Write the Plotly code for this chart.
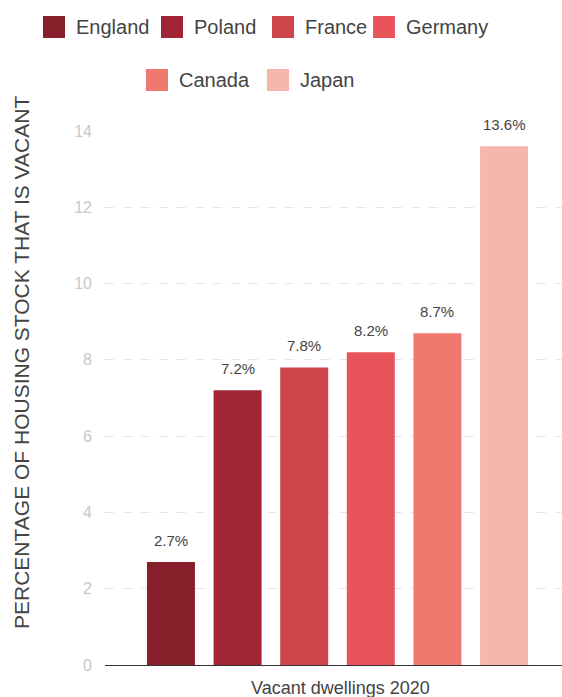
import plotly.graph_objects as go

# Data
countries = ["England", "Poland", "France", "Germany", "Canada", "Japan"]
vacant_pct = [2.7, 7.2, 7.8, 8.2, 8.7, 13.6]
colors = ["#861f29", "#a02434", "#cf454c", "#e8545a", "#ef796f", "#f5b7ac"]
y_ticks = [0, 2, 4, 6, 8, 10, 12, 14]
x_title = "Vacant dwellings 2020"
y_title = "PERCENTAGE OF HOUSING STOCK THAT IS VACANT"

W, H = 562, 697
ML, MR, MT, MB = 105, 0, 131, 32
PW, PH = W - ML - MR, H - MT - MB
FONT = "Arial, Liberation Sans, sans-serif"


def px_x(px):
    return (px - ML) / PW


def px_y(py):
    return (H - MB - py) / PH


fig = go.Figure()
for name, val, col in zip(countries, vacant_pct, colors):
    fig.add_trace(go.Bar(
        x=[name], y=[val], name=name,
        marker=dict(color=col, line=dict(width=0)),
        width=0.72, showlegend=False,
    ))

annotations = []
# value labels above bars
for name, val in zip(countries, vacant_pct):
    annotations.append(dict(
        x=name, y=val, xref="x", yref="y", text=f"{val}%",
        showarrow=False, yanchor="bottom", yshift=11,
        font=dict(family=FONT, size=15, color="#444"),
    ))

# axis titles
annotations.append(dict(
    x=px_x(21), y=px_y(363), xref="paper", yref="paper", text=y_title,
    textangle=-90, showarrow=False, xanchor="center", yanchor="middle",
    font=dict(family=FONT, size=21, color="#444"),
))
annotations.append(dict(
    x=px_x(340), y=px_y(688), xref="paper", yref="paper", text=x_title,
    showarrow=False, xanchor="center", yanchor="middle",
    font=dict(family=FONT, size=18, color="#444"),
))

# two-row legend drawn with swatches and labels
legend_rows = [(27, [43, 161, 272, 373]), (80, [146, 267])]
shapes = []
idx = 0
for cy, xs in legend_rows:
    for sx in xs:
        shapes.append(dict(
            type="rect", xref="paper", yref="paper",
            x0=px_x(sx), x1=px_x(sx + 22), y0=px_y(cy + 11), y1=px_y(cy - 11),
            fillcolor=colors[idx], line=dict(width=0), layer="above",
        ))
        annotations.append(dict(
            x=px_x(sx + 31), y=px_y(cy), xref="paper", yref="paper",
            text=countries[idx], showarrow=False, xanchor="left", yanchor="middle",
            font=dict(family=FONT, size=20, color="#444"),
        ))
        idx += 1

fig.update_layout(
    width=W, height=H,
    margin=dict(l=ML, r=MR, t=MT, b=MB),
    paper_bgcolor="white", plot_bgcolor="white",
    barmode="overlay",
    showlegend=False,
    annotations=annotations,
    shapes=shapes,
    font=dict(family=FONT),
    xaxis=dict(
        type="category", categoryorder="array", categoryarray=countries,
        range=[-0.99, 5.87], showticklabels=False, ticks="",
        showgrid=False, showline=True, linecolor="#333", linewidth=1,
        fixedrange=True,
    ),
    yaxis=dict(
        range=[0, 14], tickvals=y_ticks, ticktext=[str(t) for t in y_ticks],
        tickfont=dict(family=FONT, size=16, color="#c8c8c8"),
        ticklabelstandoff=12,
        showgrid=True, gridcolor="#e6e6e6", griddash="dash", gridwidth=1,
        zeroline=False, showline=False, ticks="",
        fixedrange=True,
    ),
)

fig.write_html("out.html")
